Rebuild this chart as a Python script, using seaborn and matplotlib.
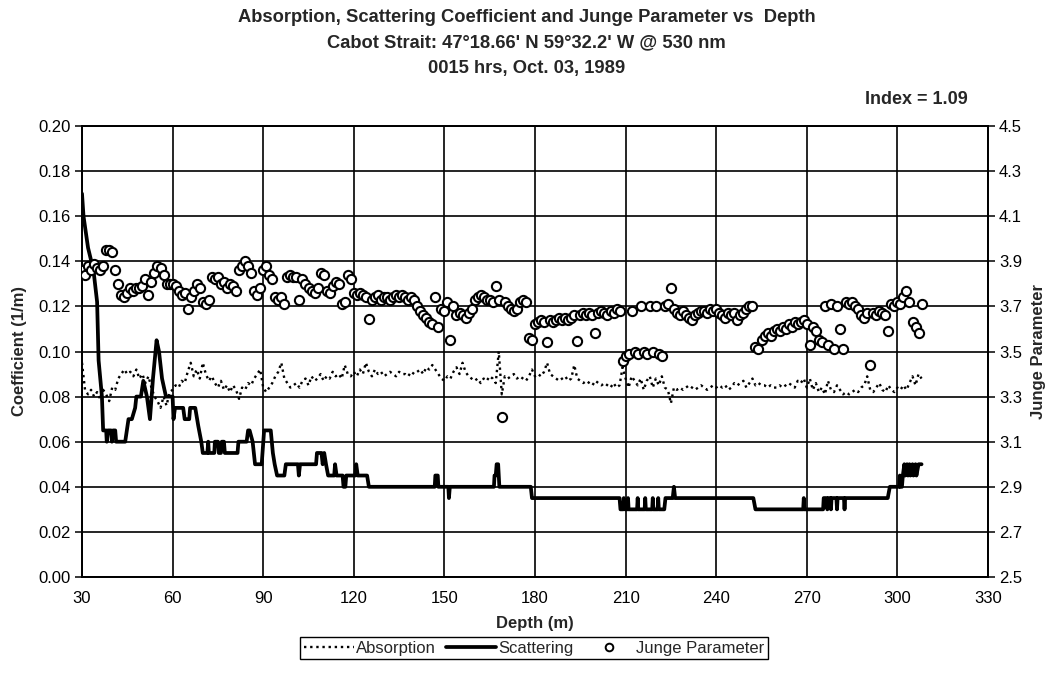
import numpy as np
import pandas as pd
import matplotlib
matplotlib.use("Agg")
import matplotlib.pyplot as plt
from matplotlib.lines import Line2D
import seaborn as sns

# ---------------- data ----------------
depth_start = 30
absorption = [
    0.095, 0.083, 0.081, 0.083, 0.080, 0.082, 0.079, 0.083, 0.081, 0.078,   # 30-39
    0.084, 0.083, 0.088, 0.090, 0.092, 0.090, 0.091, 0.089, 0.092, 0.088,   # 40-49
    0.090, 0.086, 0.089, 0.084, 0.080, 0.078, 0.075, 0.080, 0.076, 0.082,   # 50-59
    0.083, 0.085, 0.084, 0.087, 0.086, 0.091, 0.095, 0.089, 0.092, 0.088,   # 60-69
    0.095, 0.090, 0.087, 0.089, 0.086, 0.084, 0.087, 0.083, 0.085, 0.082,   # 70-79
    0.085, 0.083, 0.079, 0.084, 0.083, 0.086, 0.085, 0.088, 0.090, 0.092,   # 80-89
    0.084, 0.082, 0.084, 0.086, 0.089, 0.091, 0.095, 0.088, 0.086, 0.084,   # 90-99
    0.085, 0.086, 0.084, 0.087, 0.088, 0.085, 0.089, 0.087, 0.088, 0.090,   # 100-109
    0.087, 0.089, 0.088, 0.091, 0.089, 0.090, 0.088, 0.094, 0.090, 0.089,   # 110-119
    0.091, 0.089, 0.092, 0.090, 0.095, 0.091, 0.089, 0.092, 0.090, 0.091,   # 120-129
    0.089, 0.090, 0.091, 0.090, 0.089, 0.091, 0.090, 0.090, 0.089, 0.091,   # 130-139
    0.090, 0.091, 0.092, 0.090, 0.093, 0.092, 0.094, 0.092, 0.090, 0.088,   # 140-149
    0.087, 0.089, 0.088, 0.091, 0.093, 0.090, 0.095, 0.091, 0.089, 0.088,   # 150-159
    0.087, 0.088, 0.086, 0.088, 0.087, 0.089, 0.088, 0.086, 0.100, 0.081,   # 160-169
    0.089, 0.088, 0.089, 0.090, 0.088, 0.089, 0.088, 0.087, 0.089, 0.092,   # 170-179
    0.089, 0.090, 0.089, 0.091, 0.095, 0.090, 0.089, 0.088, 0.087, 0.088,   # 180-189
    0.089, 0.087, 0.088, 0.094, 0.088, 0.087, 0.086, 0.087, 0.086, 0.085,   # 190-199
    0.087, 0.086, 0.085, 0.086, 0.085, 0.084, 0.086, 0.084, 0.085, 0.093,   # 200-209
    0.088, 0.084, 0.089, 0.087, 0.085, 0.088, 0.083, 0.087, 0.089, 0.084,   # 210-219
    0.088, 0.085, 0.089, 0.084, 0.083, 0.077, 0.084, 0.083, 0.084, 0.083,   # 220-229
    0.084, 0.085, 0.084, 0.083, 0.084, 0.085, 0.084, 0.083, 0.084, 0.085,   # 230-239
    0.084, 0.085, 0.084, 0.085, 0.083, 0.084, 0.086, 0.085, 0.086, 0.087,   # 240-249
    0.084, 0.086, 0.088, 0.085, 0.086, 0.085, 0.085, 0.084, 0.085, 0.084,   # 250-259
    0.084, 0.085, 0.084, 0.085, 0.086, 0.085, 0.084, 0.087, 0.086, 0.088,   # 260-269
    0.084, 0.088, 0.083, 0.086, 0.082, 0.084, 0.081, 0.087, 0.083, 0.082,   # 270-279
    0.085, 0.083, 0.081, 0.082, 0.081, 0.082, 0.083, 0.082, 0.084, 0.085,   # 280-289
    0.089, 0.083, 0.082, 0.084, 0.086, 0.083, 0.082, 0.085, 0.083, 0.082,   # 290-299
    0.084, 0.083, 0.085, 0.083, 0.086, 0.089, 0.085, 0.090, 0.088,          # 300-308
]

junge = [
    3.86, 3.84, 3.88, 3.86, 3.89, 3.87, 3.86, 3.88, 3.95, 3.95,   # 30-39
    3.94, 3.86, 3.80, 3.75, 3.74, 3.76, 3.78, 3.77, 3.78, 3.78,   # 40-49
    3.79, 3.82, 3.75, 3.81, 3.85, 3.88, 3.87, 3.84, 3.80, 3.80,   # 50-59
    3.80, 3.79, 3.77, 3.75, 3.76, 3.69, 3.74, 3.77, 3.80, 3.78,   # 60-69
    3.72, 3.71, 3.73, 3.83, 3.82, 3.83, 3.80, 3.81, 3.78, 3.80,   # 70-79
    3.79, 3.77, 3.86, 3.88, 3.90, 3.88, 3.85, 3.77, 3.75, 3.78,   # 80-89
    3.86, 3.88, 3.84, 3.82, 3.74, 3.73, 3.74, 3.71, 3.83, 3.84,   # 90-99
    3.83, 3.83, 3.73, 3.82, 3.80, 3.78, 3.77, 3.76, 3.78, 3.85,   # 100-109
    3.84, 3.77, 3.76, 3.79, 3.81, 3.80, 3.71, 3.72, 3.84, 3.82,   # 110-119
    3.76, 3.75, 3.76, 3.75, 3.74, 3.645, 3.73, 3.74, 3.75, 3.73,  # 120-129
    3.74, 3.74, 3.73, 3.74, 3.75, 3.74, 3.75, 3.74, 3.73, 3.74,   # 130-139
    3.73, 3.70, 3.68, 3.66, 3.65, 3.63, 3.62, 3.74, 3.61, 3.69,   # 140-149
    3.68, 3.72, 3.55, 3.70, 3.66, 3.67, 3.66, 3.65, 3.67, 3.69,   # 150-159
    3.73, 3.74, 3.75, 3.74, 3.73, 3.73, 3.72, 3.79, 3.73, 3.21,   # 160-169
    3.72, 3.70, 3.69, 3.68, 3.69, 3.72, 3.73, 3.72, 3.56, 3.55,   # 170-179
    3.62, 3.63, 3.64, 3.63, 3.54, 3.64, 3.63, 3.64, 3.65, 3.64,   # 180-189
    3.65, 3.64, 3.65, 3.66, 3.545, 3.66, 3.67, 3.66, 3.67, 3.66,  # 190-199
    3.58, 3.67, 3.68, 3.67, 3.66, 3.68, 3.67, 3.69, 3.68, 3.46,   # 200-209
    3.48, 3.49, 3.68, 3.50, 3.49, 3.70, 3.50, 3.49, 3.70, 3.50,   # 210-219
    3.70, 3.49, 3.48, 3.70, 3.71, 3.78, 3.69, 3.67, 3.66, 3.68,   # 220-229
    3.66, 3.65, 3.64, 3.66, 3.67, 3.68, 3.68, 3.67, 3.69, 3.68,   # 230-239
    3.69, 3.67, 3.66, 3.65, 3.67, 3.66, 3.67, 3.64, 3.66, 3.67,   # 240-249
    3.69, 3.70, 3.70, 3.52, 3.51, 3.55, 3.57, 3.58, 3.57, 3.59,   # 250-259
    3.60, 3.59, 3.61, 3.60, 3.62, 3.61, 3.63, 3.62, 3.63, 3.64,   # 260-269
    3.62, 3.53, 3.61, 3.59, 3.55, 3.54, 3.70, 3.53, 3.71, 3.51,   # 270-279
    3.70, 3.60, 3.51, 3.72, 3.71, 3.72, 3.70, 3.69, 3.66, 3.65,   # 280-289
    3.67, 3.44, 3.67, 3.66, 3.68, 3.67, 3.66, 3.59, 3.71, 3.70,   # 290-299
    3.72, 3.71, 3.74, 3.77, 3.72, 3.63, 3.61, 3.58, 3.71,         # 300-308
]

# scattering: vertices of the polyline
scat_depth = [
    30, 30.5, 32, 33.8, 35, 35.5, 36.6, 37, 38, 38.2, 38.6, 39.6, 39.9, 40.3, 41, 41.3,
    44.3, 45.4, 46.5, 47.6, 48, 49.5, 50.3, 51.5, 52.5, 53.5, 54, 54.7, 55.5, 56.5, 57.8,
    60, 60.3, 60.8, 63.5, 64, 65.5, 65.8, 67.5, 68.5, 69.5, 70, 71.5, 71.8, 72, 73.8, 74,
    75, 75.3, 76, 76.3, 77, 77.3, 81.5, 81.8, 84.5, 85, 85.5, 86.5, 87.3, 89.5, 90.3, 92.5,
    93.2, 93.8, 94.6, 97, 97.5, 101.5, 101.8, 102.2, 107.5, 107.8, 109.3, 109.7, 110.2,
    110.8, 111.5, 113.5, 113.8, 114.3, 116.3, 116.6, 117.2, 117.5, 120.5, 120.8, 121.3,
    124.4, 125, 146.8, 147, 147.8, 148, 151.3, 151.5, 151.8, 166.4, 166.6, 167, 167.3,
    167.8, 168.2, 178.6, 179, 208, 208.3, 209.2, 209.4, 209.8, 210.6, 210.8, 211, 213.8,
    214, 214.2, 216.3, 216.5, 216.7, 218.8, 219, 219.2, 220.6, 220.8, 221, 222.8, 223.2,
    225.6, 226, 226.4, 252.3, 253, 268.8, 269, 269.2, 275.4, 275.6, 276.6, 276.8, 277.2,
    277.8, 278, 278.2, 279.8, 280, 280.2, 282.3, 282.5, 282.7, 296.8, 297.5, 300.6, 300.8,
    301, 301.5, 301.8, 302.3, 302.6, 303.2, 303.5, 304, 304.3, 305, 305.3, 306, 306.3,
    307, 308,
]
scat_value = [
    0.170, 0.160, 0.146, 0.136, 0.122, 0.096, 0.080, 0.065, 0.065, 0.060, 0.065, 0.065, 0.060, 0.065, 0.065, 0.060,
    0.060, 0.070, 0.070, 0.075, 0.080, 0.080, 0.087, 0.080, 0.070, 0.088, 0.095, 0.105, 0.100, 0.088, 0.080,
    0.080, 0.070, 0.075, 0.075, 0.070, 0.070, 0.075, 0.075, 0.067, 0.060, 0.055, 0.055, 0.060, 0.055, 0.055, 0.060,
    0.060, 0.055, 0.055, 0.060, 0.060, 0.055, 0.055, 0.060, 0.060, 0.065, 0.065, 0.060, 0.050, 0.050, 0.065, 0.065,
    0.055, 0.050, 0.045, 0.045, 0.050, 0.050, 0.045, 0.050, 0.050, 0.055, 0.055, 0.050, 0.055,
    0.050, 0.045, 0.045, 0.050, 0.045, 0.045, 0.040, 0.040, 0.045, 0.045, 0.050, 0.045,
    0.045, 0.040, 0.040, 0.045, 0.045, 0.040, 0.040, 0.035, 0.040, 0.040, 0.045, 0.045, 0.050,
    0.050, 0.040, 0.040, 0.035, 0.035, 0.030, 0.030, 0.035, 0.030, 0.030, 0.035, 0.030, 0.030,
    0.035, 0.030, 0.030, 0.035, 0.030, 0.030, 0.035, 0.030, 0.030, 0.035, 0.030, 0.030, 0.035,
    0.035, 0.040, 0.035, 0.035, 0.030, 0.030, 0.035, 0.030, 0.030, 0.035, 0.035, 0.030, 0.035,
    0.035, 0.030, 0.035, 0.035, 0.030, 0.035, 0.035, 0.030, 0.035, 0.035, 0.040, 0.040, 0.045,
    0.040, 0.040, 0.045, 0.050, 0.045, 0.050, 0.045, 0.050, 0.045, 0.050, 0.045, 0.050, 0.045,
    0.050, 0.050,
]

x_ticks = [30, 60, 90, 120, 150, 180, 210, 240, 270, 300, 330]
left_ticks = [0.00, 0.02, 0.04, 0.06, 0.08, 0.10, 0.12, 0.14, 0.16, 0.18, 0.20]
right_ticks = [2.5, 2.7, 2.9, 3.1, 3.3, 3.5, 3.7, 3.9, 4.1, 4.3, 4.5]

title_lines = [
    "Absorption, Scattering Coefficient and Junge Parameter vs  Depth",
    "Cabot Strait: 47\u00b018.66' N 59\u00b032.2' W @ 530 nm",
    "0015 hrs, Oct. 03, 1989",
]

# ---------------- tables ----------------
df_abs = pd.DataFrame({"depth": np.arange(depth_start, depth_start + len(absorption)),
                       "value": absorption})
df_jun = pd.DataFrame({"depth": np.arange(depth_start, depth_start + len(junge)),
                       "value": junge})
df_sca = pd.DataFrame({"depth": scat_depth, "value": scat_value})

# ---------------- style ----------------
sns.set_theme(style="white")
plt.rcParams["font.family"] = ["Liberation Sans", "DejaVu Sans"]

W, H = 1049, 683
fig = plt.figure(figsize=(W / 100, H / 100), dpi=100)
L, R, T, B = 82, 988, 126, 577
ax = fig.add_axes([L / W, 1 - B / H, (R - L) / W, (B - T) / H])
ax2 = ax.twinx()

sns.lineplot(data=df_abs, x="depth", y="value", ax=ax, color="black",
             linestyle=(0, (1, 1.6)), linewidth=1.7, sort=False, estimator=None)
sns.lineplot(data=df_sca, x="depth", y="value", ax=ax, color="black",
             linewidth=2.7, sort=False, estimator=None)
sns.scatterplot(data=df_jun, x="depth", y="value", ax=ax2, marker="o",
                facecolor="white", edgecolor="black", linewidth=1.5, s=44, zorder=3)

ax.set_xlim(30, 330)
ax.set_ylim(0, 0.20)
ax2.set_ylim(2.5, 4.5)
ax.set_xticks(x_ticks)
ax.set_yticks(left_ticks)
ax2.set_yticks(right_ticks)
ax.set_yticklabels([f"{v:.2f}" for v in left_ticks])
ax2.set_yticklabels([f"{v:.1f}" for v in right_ticks])

ax.grid(True, color="black", linewidth=1.2)
ax2.grid(False)
for a in (ax, ax2):
    for s in a.spines.values():
        s.set_color("black")
        s.set_linewidth(1.3)
ax.tick_params(axis="both", which="both", direction="out", length=5, width=1.1,
               color="black", labelsize=12, labelcolor="black", pad=3)
ax.tick_params(axis="x", direction="inout", length=8, pad=6)
ax2.tick_params(axis="y", direction="out", length=5, width=1.1, color="black",
                labelsize=12, labelcolor="black", pad=3)

ax.set_xlabel("Depth (m)", fontsize=12, fontweight="bold", labelpad=7)
ax.set_ylabel("Coefficient (1/m)", fontsize=12, fontweight="bold", labelpad=8)
ax2.set_ylabel("Junge Parameter", fontsize=12, fontweight="bold", labelpad=6)

# titles
for i, line in enumerate(title_lines):
    fig.text(0.502, 1 - (18 + 25 * i) / H, line, ha="center", va="center",
             fontsize=13.2, fontweight="bold")
fig.text(968 / W, 1 - 99 / H, "Index = 1.09", ha="right", va="center",
         fontsize=13, fontweight="bold")

# legend
handles = [
    Line2D([], [], color="black", linestyle=(0, (1, 1.6)), linewidth=1.7),
    Line2D([], [], color="black", linewidth=2.7),
    Line2D([], [], color="black", marker="o", linestyle="none",
           markerfacecolor="white", markeredgewidth=1.4, markersize=5.5),
]
leg = fig.legend(handles, ["Absorption", "Scattering", "Junge Parameter"],
                 loc="center", bbox_to_anchor=(534 / W, 1 - 648 / H), ncol=3,
                 frameon=True, fancybox=False, edgecolor="black", framealpha=1,
                 handlelength=3.0, handletextpad=0.15, columnspacing=0.6,
                 borderpad=0.2, prop={"size": 12})
leg.get_frame().set_linewidth(1.0)

fig.savefig("out.png", dpi=100)
